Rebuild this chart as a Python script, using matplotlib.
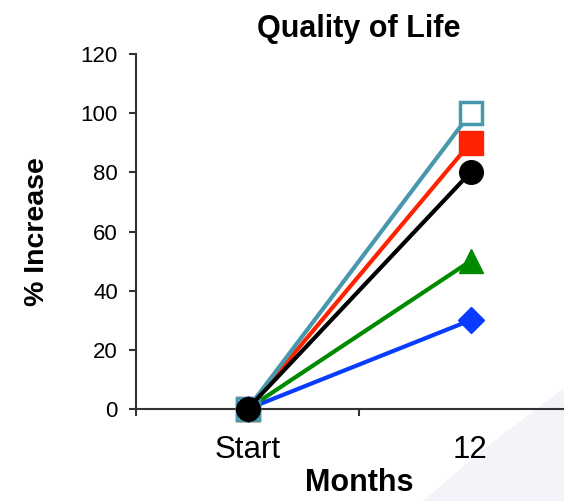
import matplotlib.pyplot as plt
from matplotlib.patches import Polygon

plt.rcParams['font.family'] = ['Liberation Sans', 'DejaVu Sans']

# Percent increase in quality of life, start vs. 12 months
categories = ["Start", "12"]
series_names = ["Blue", "Green", "Red", "Teal", "Black"]
series_values = [
    [0, 30],
    [0, 50],
    [0, 90],
    [0, 100],
    [0, 80],
]
series_colors = ["#0a3cff", "#008a00", "#ff2200", "#4798ae", "#000000"]
series_markers = ["D", "^", "s", "s", "o"]
series_filled = [True, True, True, False, True]
series_msize = [13, 17, 17, 16, 17]

y_ticks = [0, 20, 40, 60, 80, 100, 120]

fig = plt.figure(figsize=(5.64, 5.01), dpi=100)

# soft background wedge in the lower right corner
W, H = 564, 501
wedge = Polygon([(423 / W, 0), (480 / W, 1 - 452 / H), (1, 1 - 388 / H), (1, 0)], closed=True,
                transform=fig.transFigure, facecolor="#f2f4f9", edgecolor="none", zorder=-5)
fig.patches.append(wedge)

ax = fig.add_axes([136 / W, 1 - 409 / H, 446 / W, 355 / H])
ax.patch.set_alpha(0)
ax.set_zorder(2)

x_pos = [0.5, 1.5]
for vals, col, mk, filled, ms in zip(series_values, series_colors, series_markers,
                                     series_filled, series_msize):
    ax.plot(x_pos, vals, color=col, lw=3, marker=mk, markersize=ms,
            markerfacecolor=col if filled else "white", markeredgecolor=col,
            markeredgewidth=2.5 if not filled else 1, clip_on=False, zorder=3)

ax.set_xlim(0, 2)
ax.set_ylim(0, 120)
ax.set_yticks(y_ticks)
ax.set_yticklabels([str(v) for v in y_ticks], fontsize=16)
ax.set_xticks([0, 1, 2])
ax.set_xticklabels([])
ax.set_xticks(x_pos, minor=True)
ax.set_xticklabels(categories, minor=True, fontsize=22.5)
ax.tick_params(axis="x", which="minor", length=0, pad=19)
ax.tick_params(axis="both", which="major", length=5, width=1.5, color="#333333", direction="out")
ax.tick_params(axis="y", pad=8)

for side in ("top", "right"):
    ax.spines[side].set_visible(False)
for side in ("left", "bottom"):
    ax.spines[side].set_linewidth(1.5)
    ax.spines[side].set_color("#333333")

ax.set_title("Quality of Life", fontsize=22, fontweight="bold", pad=12)
ax.set_xlabel("Months", fontsize=22, fontweight="bold", labelpad=2)
ax.set_ylabel("% Increase", fontsize=20.5, fontweight="bold", labelpad=22)

fig.savefig("out.png", dpi=100)
